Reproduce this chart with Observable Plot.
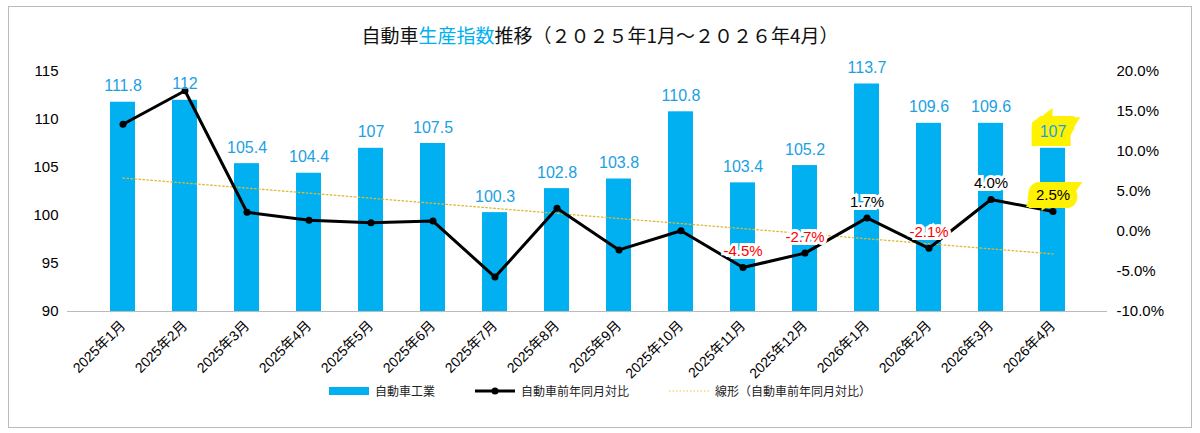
<!DOCTYPE html>
<html><head><meta charset="utf-8">
<script src="https://cdn.jsdelivr.net/npm/d3@7"></script>
<script src="https://cdn.jsdelivr.net/npm/@observablehq/plot@0.6"></script>
<style>
body{margin:0;background:#fff;font-family:"Noto Sans CJK JP","Noto Sans",sans-serif;}
#wrap{position:absolute;left:8px;top:6px;width:1182px;height:420px;border:1px solid #bbb;background:#fff;}
#title{text-align:center;font-size:19px;margin-top:14px;height:30px;color:#111;}
#title .b{color:#00B0F0;}
#legend{display:flex;justify-content:center;gap:40px;font-size:12px;margin-top:-4px;color:#222;}
#legend span{display:inline-flex;align-items:center;gap:6px;}
</style></head><body>
<div id="wrap">
<div id="title">自動車<span class="b">生産指数</span>推移（２０２５年1月～２０２６年4月）</div>
<div id="chart"></div>
<div id="legend">
<span><svg width="40" height="10"><rect x="0" y="1" width="40" height="8" fill="#00B0F0"/></svg>自動車工業</span>
<span><svg width="40" height="10"><line x1="0" y1="5" x2="40" y2="5" stroke="#000" stroke-width="3"/><circle cx="20" cy="5" r="3.5"/></svg>自動車前年同月対比</span>
<span><svg width="40" height="10"><line x1="0" y1="5" x2="40" y2="5" stroke="#E8C840" stroke-dasharray="1.5,2"/></svg>線形（自動車前年同月対比）</span>
</div>
</div>
<script>
const months=["2025年1月","2025年2月","2025年3月","2025年4月","2025年5月","2025年6月","2025年7月","2025年8月","2025年9月","2025年10月","2025年11月","2025年12月","2026年1月","2026年2月","2026年3月","2026年4月"];
const index=[111.8,112,105.4,104.4,107,107.5,100.3,102.8,103.8,110.8,103.4,105.2,113.7,109.6,109.6,107];
const yoy=[13.4,17.6,2.4,1.4,1.1,1.3,-5.7,2.9,-2.3,0.1,-4.5,-2.7,1.7,-2.1,4.0,2.5];
const yoyLabels=["","","","","","","","","","","-4.5%","-2.7%","1.7%","-2.1%","4.0%","2.5%"];
const leftTicks=[90,95,100,105,110,115];
const rightTicks=[-10,-5,0,5,10,15,20];
const toL=v=>90+(v+10)*25/30;
const data=months.map((m,i)=>({m,i,v:index[i],p:yoy[i],py:toL(yoy[i]),lab:yoyLabels[i]}));
// least-squares trend of the YoY series
const n=yoy.length,mx=d3.mean(data,d=>d.i),my=d3.mean(yoy);
const slope=d3.sum(data,d=>(d.i-mx)*(d.p-my))/d3.sum(data,d=>(d.i-mx)**2);
const trend=data.map(d=>({m:d.m,py:toL(my+slope*(d.i-mx))}));
const chart=Plot.plot({
 width:1180,height:335,marginLeft:58,marginRight:82,marginTop:20,marginBottom:75,
 style:{fontSize:"14px",fontFamily:"Arial,'Noto Sans CJK JP',sans-serif",color:"#000"},
 x:{domain:months,padding:0.6,label:null},
 y:{domain:[90,115],label:null},
 marks:[
  Plot.rectY(data,{x:"m",y1:90,y2:"v",fill:"#00B0F0"}),
  Plot.axisY({ticks:leftTicks,tickSize:0,label:null,fontSize:15}),
  Plot.axisY({anchor:"right",ticks:rightTicks.map(toL),tickFormat:(d)=>(Math.round((d-90)*30/25-10)).toFixed(1)+"%",tickSize:0,label:null,fontSize:15}),
  Plot.axisX({tickRotate:-45,tickSize:0,fontSize:14,label:null}),
  Plot.ruleY([90],{stroke:"#bbb"}),
  Plot.line(trend,{x:"m",y:"py",stroke:"#E0B830",strokeDasharray:"1.5,2.5",strokeWidth:1.3}),
  Plot.line(data,{x:"m",y:"py",stroke:"#000",strokeWidth:3}),
  Plot.dot(data,{x:"m",y:"py",fill:"#000",r:3.5}),
  Plot.text(data,{x:"m",y:"v",text:d=>String(d.v),dy:-16,fill:"#1BA1E2",fontSize:16}),
  Plot.text(data.filter(d=>d.i===15),{x:"m",y:"v",text:d=>String(d.v),dy:-16,fill:"#1BA1E2",fontSize:16,stroke:"#FFF200",strokeWidth:18,strokeLinejoin:"miter"}),
  Plot.text(data.filter(d=>d.lab),{x:"m",y:"py",text:"lab",dy:-16,fill:d=>d.p<0?"#FF0000":"#000",fontSize:15,stroke:d=>d.i===15?"#FFF200":"#fff",strokeWidth:d=>d.i===15?16:6,strokeLinejoin:"miter"})
 ]
});
document.getElementById("chart").append(chart);
</script>
</body></html>
